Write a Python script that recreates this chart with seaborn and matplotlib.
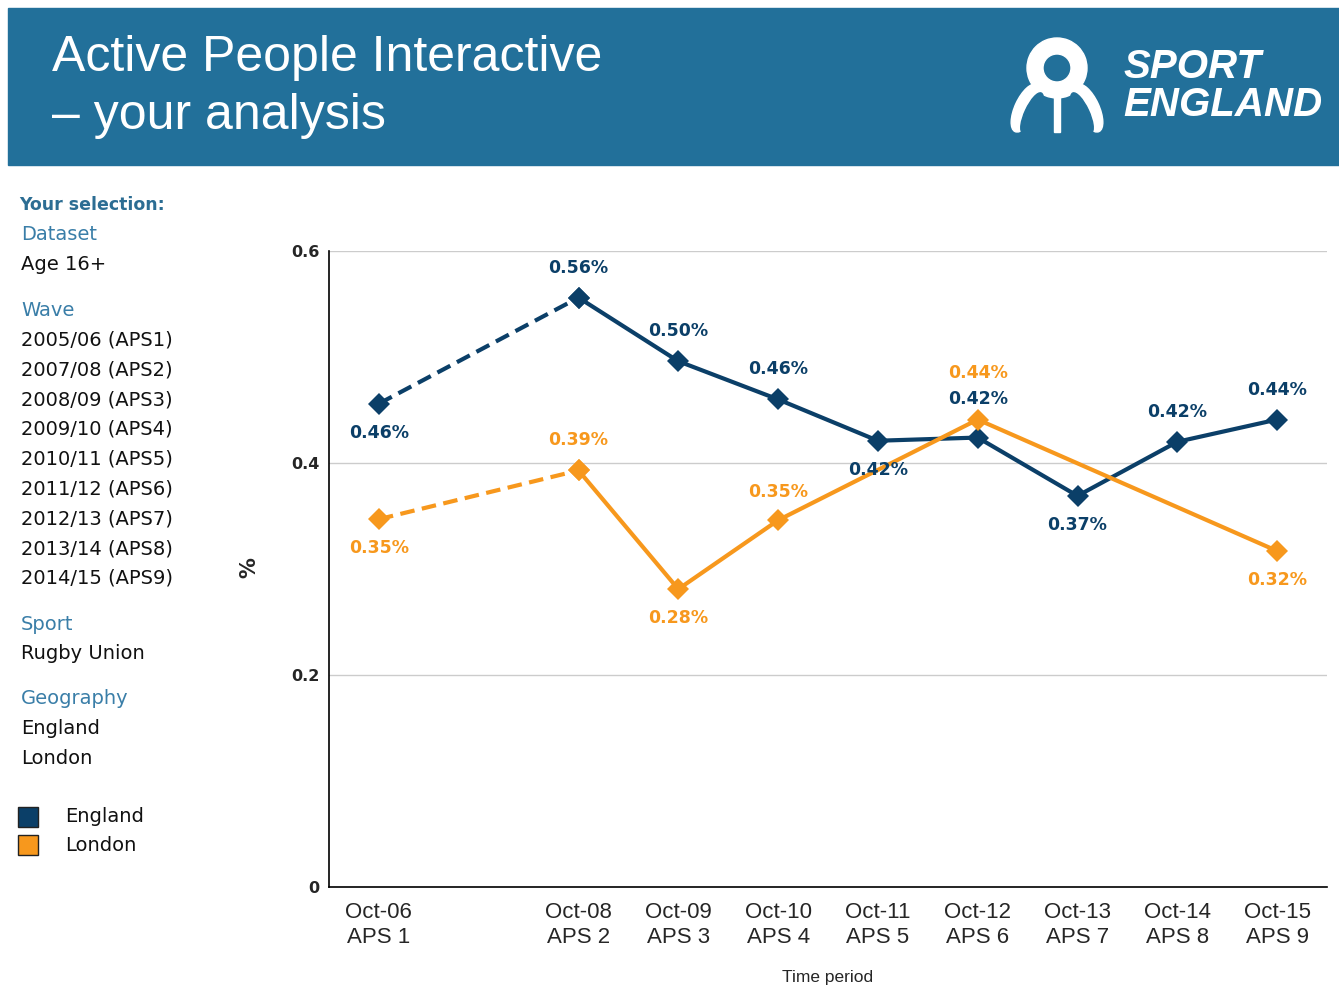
"""
Active People Interactive - Rugby Union participation, England vs London.
"""

import matplotlib.pyplot as plt
import numpy as np
import pandas as pd
import seaborn as sns
from matplotlib.patches import Ellipse, Rectangle, Wedge

# ---- data ----
periods = ["Oct-06", "", "Oct-08", "Oct-09", "Oct-10", "Oct-11",
           "Oct-12", "Oct-13", "Oct-14", "Oct-15"]
waves = ["APS 1", "", "APS 2", "APS 3", "APS 4", "APS 5",
         "APS 6", "APS 7", "APS 8", "APS 9"]
england = [0.456, np.nan, 0.556, 0.496, 0.460, 0.421, 0.424, 0.369, 0.420, 0.441]
london = [0.347, np.nan, 0.393, 0.281, 0.346, np.nan, 0.441, np.nan, np.nan, 0.317]

selection_waves = ["2005/06 (APS1)", "2007/08 (APS2)", "2008/09 (APS3)",
                   "2009/10 (APS4)", "2010/11 (APS5)", "2011/12 (APS6)",
                   "2012/13 (APS7)", "2013/14 (APS8)", "2014/15 (APS9)"]

# label offsets in pixels (positive = above the point)
england_dy = [-29, 0, 30, 30, 30, -29, 39, -29, 30, 30]
london_dy = [-29, 0, 30, -29, 28, 0, 47, 0, 0, -29]

colors = {"England": "#0b3f68", "London": "#f7981d"}
HEADER = "#22709a"
SEL_BLUE = "#3a7ea8"

W, H = 1339, 988


def fx(x):
    return x / W


def fy(y):
    return 1 - y / H


sns.set_style("white")
plt.rcParams["font.family"] = ["DejaVu Sans"]

fig = plt.figure(figsize=(W / 100, H / 100), dpi=100)

# ---- header band ----
fig.add_artist(Rectangle((fx(8), fy(165)), fx(1339) - fx(8), fy(8) - fy(165),
                         transform=fig.transFigure, color=HEADER, zorder=0))
fig.text(fx(52), fy(58), "Active People Interactive", color="white",
         fontsize=36, family="Liberation Sans", va="center")
fig.text(fx(52), fy(116), "\u2013 your analysis", color="white",
         fontsize=36, family="Liberation Sans", va="center")
fig.text(fx(1123), fy(67), "SPORT", color="white", fontsize=29,
         family="Liberation Sans", weight="bold", style="italic", va="center")
fig.text(fx(1123), fy(105), "ENGLAND", color="white", fontsize=29,
         family="Liberation Sans", weight="bold", style="italic", va="center")

# logo icon
logo = fig.add_axes([fx(1005), fy(137), fx(1110) - fx(1005), fy(35) - fy(137)])
logo.set_xlim(1005, 1110)
logo.set_ylim(137, 35)
logo.axis("off")
logo.add_patch(Wedge((1057, 68), 30, 0, 360, width=16, color="white"))
logo.add_patch(Rectangle((1054, 90), 6, 42, color="white"))
logo.add_patch(Ellipse((1026, 108), 22, 52, angle=25, color="white"))
logo.add_patch(Ellipse((1088, 108), 22, 52, angle=-25, color="white"))
logo.add_patch(Ellipse((1032, 113), 14, 44, angle=25, color=HEADER))
logo.add_patch(Ellipse((1082, 113), 14, 44, angle=-25, color=HEADER))

# ---- left selection panel ----
fig.text(fx(19), fy(205), "Your selection:", color="#2c6d93",
         fontsize=12.5, weight="bold", va="center")
panel = [("Dataset", True, 235), ("Age 16+", False, 265), ("Wave", True, 310)]
panel += [(w, False, 340 + i * 29.8) for i, w in enumerate(selection_waves)]
panel += [("Sport", True, 624), ("Rugby Union", False, 653),
          ("Geography", True, 699), ("England", False, 729), ("London", False, 758)]
for text, is_head, y in panel:
    fig.text(fx(21), fy(y), text, color=SEL_BLUE if is_head else "#111111",
             fontsize=14, va="center")

for i, (name, col) in enumerate(colors.items()):
    y = 817 + i * 28
    fig.add_artist(Rectangle((fx(18), fy(y + 10)), fx(38) - fx(18), fy(y - 10) - fy(y + 10),
                             transform=fig.transFigure, facecolor=col,
                             edgecolor="#222222", linewidth=1))
    fig.text(fx(65), fy(y), name, color="#111111", fontsize=14, va="center")

# ---- main chart ----
ax = fig.add_axes([fx(329), fy(887), fx(1327) - fx(329), fy(251) - fy(887)])

df = pd.DataFrame({"slot": range(len(periods)), "England": england, "London": london})
long = df.melt(id_vars="slot", var_name="area", value_name="pct").dropna()

solid = long[long["slot"] >= 2]
dashed = long[long["slot"] <= 2]
sns.lineplot(data=solid, x="slot", y="pct", hue="area", palette=colors,
             marker="D", markersize=11, markeredgewidth=0, linewidth=3,
             errorbar=None, legend=False, ax=ax, zorder=3)
sns.lineplot(data=dashed, x="slot", y="pct", hue="area", palette=colors,
             marker="D", markersize=11, markeredgewidth=0, linewidth=3,
             linestyle=(0, (3.5, 1.8)), errorbar=None, legend=False, ax=ax, zorder=3)

for series, offsets, name in [(england, england_dy, "England"), (london, london_dy, "London")]:
    for slot, (v, dy) in enumerate(zip(series, offsets)):
        if np.isnan(v):
            continue
        ax.annotate(f"{v:.2f}%", (slot, v), xytext=(0, dy * 0.72),
                    textcoords="offset points", ha="center", va="center",
                    fontsize=12.5, weight="bold", color=colors[name], zorder=4)

ax.set_xlim(-0.5, len(periods) - 0.5)
ax.set_ylim(0, 0.6)
ax.set_xticks(np.arange(-0.5, len(periods)))
ax.set_xticklabels([])
ax.set_xticks(range(len(periods)), minor=True)
ax.set_xticklabels([f"{p}\n{w}" if p else "" for p, w in zip(periods, waves)],
                   minor=True, fontsize=16, family="Liberation Sans", linespacing=1.25)
ax.tick_params(axis="x", which="major", length=8, width=1.2, color="black", direction="out")
ax.tick_params(axis="x", which="minor", length=0, pad=11)
ax.set_yticks([0, 0.2, 0.4, 0.6])
ax.set_yticklabels(["0", "0.2", "0.4", "0.6"], fontsize=11.5, weight="bold")
ax.tick_params(axis="y", length=0, pad=7)
ax.yaxis.grid(True, color="#cccccc", linewidth=1)
ax.set_axisbelow(True)
sns.despine(ax=ax)
for side in ["left", "bottom"]:
    ax.spines[side].set_color("black")
    ax.spines[side].set_linewidth(1.2)
ax.set_xlabel("")
ax.set_ylabel("")

fig.text(fx(249), fy(568), "%", rotation=90, fontsize=15, weight="bold",
         ha="center", va="center")
fig.text(fx(828), fy(977), "Time period", fontsize=12.5,
         family="Liberation Sans", ha="center", va="center")

fig.savefig("out.png", dpi=100)
